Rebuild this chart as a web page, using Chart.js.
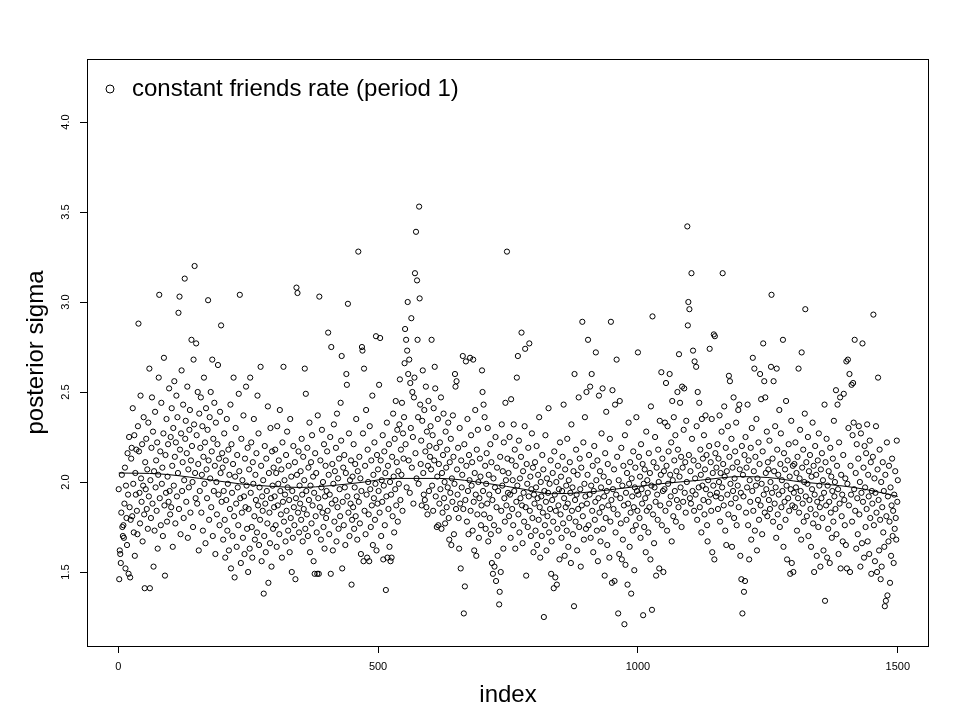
<!DOCTYPE html>
<html>
<head>
<meta charset="utf-8">
<script src="https://cdn.jsdelivr.net/npm/chart.js@4.4.1/dist/chart.umd.min.js"></script>
<style>
  html, body { margin: 0; background: #fff; }
</style>
</head>
<body>
<canvas id="myChart" width="960" height="720"></canvas>
<script>
const seriesLabel = 'constant friends rate (period 1)';
const xTicks = [0, 500, 1000, 1500];
const yTicks = [1.5, 2.0, 2.5, 3.0, 3.5, 4.0];

// posterior sigma per draw, index 1..1500 (50 per row)
const sigmaDraws = [
  1.96,1.46,1.62,1.60,1.55,1.83,2.04,1.75,1.70,1.76,1.69,1.88,2.08,1.52,1.98,1.80,1.65,2.16,1.93,1.49,2.25,1.86,1.47,1.79,2.13,2.19,1.81,2.41,1.99,1.72,2.26,1.59,2.05,1.93,2.18,1.84,1.71,2.31,2.88,2.17,1.94,1.77,2.48,2.02,1.89,2.21,1.67,1.98,2.36,1.82,
  1.41,2.11,1.96,2.24,1.85,2.07,1.74,2.33,1.92,2.63,1.41,2.01,1.80,2.19,2.47,1.88,2.28,1.53,2.06,1.73,2.39,1.97,2.12,1.84,2.22,1.63,2.04,2.58,3.04,1.91,2.17,1.76,2.44,1.99,2.08,1.70,2.27,2.69,1.87,1.48,2.15,1.94,2.35,1.78,2.03,2.21,1.89,2.52,1.95,1.82,
  2.25,1.86,2.41,2.09,1.64,2.30,1.98,2.56,2.14,1.77,2.22,2.48,1.92,2.36,2.05,2.94,1.85,3.03,2.18,1.71,2.27,2.62,1.95,2.11,2.43,1.80,2.01,3.13,2.24,2.34,1.89,2.16,2.53,1.69,2.07,1.97,2.29,2.40,1.83,2.12,2.79,2.20,2.00,1.75,2.68,2.32,3.20,2.05,1.91,2.77,
  2.26,1.88,2.50,2.10,1.62,2.38,1.95,2.19,2.47,1.83,2.04,2.31,1.73,2.14,2.58,1.99,2.22,1.66,2.41,2.07,1.91,2.29,3.01,2.12,1.79,2.36,2.02,2.50,1.86,2.17,2.68,1.70,2.24,1.95,2.44,2.09,1.60,2.33,2.00,1.82,2.21,2.65,1.93,2.13,1.76,2.39,2.05,2.87,1.89,2.16,
  2.08,1.68,1.95,2.27,1.79,1.58,2.12,1.90,2.35,1.73,1.99,2.18,1.62,2.04,1.85,2.43,1.52,2.21,1.94,1.70,2.10,2.58,1.81,1.47,2.03,2.30,1.88,1.64,2.15,1.97,1.76,2.49,2.06,3.04,1.91,1.55,2.24,1.83,2.01,1.69,2.37,1.92,1.60,2.13,1.86,2.53,1.98,1.74,2.19,1.50,
  1.85,2.07,1.63,2.58,1.94,2.22,1.75,1.58,2.11,1.99,2.35,1.81,1.68,2.04,1.90,2.16,1.72,2.48,1.87,2.27,1.65,1.97,1.79,2.64,2.09,1.56,1.92,1.84,2.01,1.38,1.70,2.20,1.88,1.61,2.13,1.95,1.77,2.42,1.44,2.05,1.83,1.66,2.30,1.91,1.53,2.17,1.98,1.74,2.08,1.86,
  1.92,2.18,1.76,2.05,1.64,2.31,1.87,1.99,2.12,1.71,2.40,1.95,1.82,2.07,1.58,2.22,1.89,2.64,1.78,2.01,1.93,1.67,2.15,1.84,2.28,1.97,1.73,2.09,1.90,1.61,2.35,1.80,2.03,1.50,1.95,1.69,2.20,1.86,1.76,2.11,1.46,1.91,3.08,2.04,3.05,1.83,2.17,1.72,1.98,1.88,
  2.06,1.79,2.24,1.93,1.67,2.14,1.85,2.01,2.63,1.74,2.49,1.95,1.82,2.19,1.70,2.08,1.90,2.33,1.61,1.98,2.11,1.77,2.26,1.87,2.03,1.56,1.94,1.49,2.16,1.81,2.05,1.72,1.49,2.37,1.91,1.49,3.03,1.86,2.12,1.68,1.97,2.29,1.83,2.00,1.75,2.21,1.63,1.92,2.09,1.80,
  1.95,2.17,1.84,2.83,2.04,1.71,1.93,2.25,1.49,2.75,1.88,2.10,1.62,1.99,2.32,1.78,2.06,1.90,2.19,1.67,2.38,1.86,2.02,1.74,2.13,1.96,1.81,2.44,2.23,2.70,1.52,1.89,2.08,1.76,2.15,1.97,1.65,2.05,2.60,2.54,1.92,2.99,1.83,2.27,1.70,2.01,1.88,2.12,1.43,1.79,
  2.03,1.86,2.21,1.74,1.97,2.10,1.81,2.35,1.92,1.68,2.06,3.28,1.89,2.14,1.77,2.02,1.60,1.95,2.75,2.73,2.27,1.56,2.63,1.84,2.09,1.71,2.40,1.93,1.58,2.18,2.00,1.82,1.56,2.31,1.96,1.75,2.12,1.87,2.48,1.65,2.04,1.91,2.22,1.79,1.99,2.81,1.62,2.15,1.88,2.07,
  1.95,2.54,1.83,2.80,2.12,1.70,2.01,1.89,2.26,1.57,1.98,2.17,1.76,2.05,1.40,1.92,2.33,1.58,2.09,1.85,2.21,1.64,2.00,1.56,1.93,1.58,2.14,1.81,2.38,2.03,1.72,2.24,1.96,2.45,1.87,2.11,2.29,1.78,2.06,1.99,2.32,2.57,1.90,2.18,2.04,2.44,1.84,2.27,2.13,2.36,
  2.66,2.85,2.21,2.79,1.97,2.73,3.00,2.60,2.12,2.68,1.94,2.55,2.30,2.91,2.08,2.50,2.25,1.88,2.47,2.58,3.16,2.16,3.39,2.02,3.12,2.79,2.36,1.99,3.53,3.02,2.43,2.10,2.23,1.87,2.34,2.62,2.05,1.93,2.40,1.90,2.17,2.53,1.86,2.28,1.82,2.09,2.45,1.95,2.20,2.14,
  2.31,2.07,2.79,1.98,2.26,1.84,2.41,2.12,2.64,2.52,1.92,2.19,1.75,2.03,2.35,1.76,2.10,1.88,2.22,1.96,2.47,1.74,2.05,1.83,2.15,2.38,1.91,2.00,1.77,2.28,2.08,1.86,2.18,1.97,2.33,1.80,1.68,2.11,1.94,2.24,1.65,2.02,1.89,2.37,2.14,1.71,1.99,2.60,2.53,1.85,
  2.56,2.07,1.93,2.19,1.80,1.63,2.30,1.88,1.52,2.12,1.97,2.04,2.70,1.85,1.27,2.21,1.42,1.90,2.67,2.09,1.78,2.35,1.95,1.71,2.15,2.01,2.69,1.84,2.26,1.98,2.11,1.73,2.68,1.89,1.62,2.05,2.40,1.93,1.59,2.18,1.82,2.29,2.00,1.69,1.91,2.13,2.03,1.76,1.87,2.62,
  2.50,1.95,2.43,1.82,2.36,2.09,1.74,1.99,2.16,1.88,2.30,1.67,2.04,1.93,1.80,2.21,1.71,2.11,1.55,1.90,1.49,2.02,1.76,1.53,1.97,2.25,1.45,1.86,2.08,1.59,1.95,1.73,1.32,1.39,2.14,1.50,1.84,2.32,1.98,2.06,1.63,2.22,1.91,1.78,2.44,2.01,1.87,3.28,2.13,1.94,
  2.05,1.81,2.25,1.93,1.69,2.46,2.12,1.85,2.01,1.76,2.32,1.95,2.18,1.63,2.09,1.89,2.58,1.98,2.70,1.82,2.23,1.72,2.02,1.91,2.14,2.83,1.87,1.66,2.06,1.94,1.78,2.31,2.74,1.86,1.48,2.10,1.99,1.75,2.19,1.92,2.77,1.84,2.03,1.70,1.96,2.27,1.80,2.08,1.61,1.93,
  1.88,2.11,1.73,1.97,2.20,1.65,1.91,2.04,1.79,2.36,1.86,1.58,2.00,1.92,1.70,2.15,1.83,2.07,1.25,1.95,1.76,2.26,1.89,1.62,2.02,1.81,1.94,2.41,1.72,1.99,1.85,2.12,1.49,1.67,1.90,2.05,1.78,1.41,2.17,1.93,1.47,1.84,2.00,1.43,1.74,2.09,1.87,1.96,1.57,2.22,
  1.82,2.03,1.69,1.95,2.14,1.77,2.43,1.91,1.59,2.07,1.86,1.98,1.73,2.24,1.88,1.64,2.01,1.80,2.11,1.94,1.55,2.32,1.84,1.97,1.71,2.06,1.31,2.60,1.90,1.78,2.18,1.93,1.62,2.04,1.85,2.47,1.75,2.13,1.96,1.53,2.08,1.87,2.89,1.81,2.22,1.68,1.99,2.36,1.92,1.74,
  2.50,1.88,2.04,2.79,1.76,2.15,1.93,2.53,1.69,1.98,2.60,1.84,2.09,1.61,1.95,2.20,1.79,1.89,2.72,2.01,1.73,2.12,1.56,1.91,2.48,1.83,2.06,1.67,1.97,2.27,1.86,2.52,1.74,2.03,1.92,1.48,2.16,1.80,2.39,1.95,1.65,2.10,1.87,2.00,1.58,2.24,1.78,2.89,1.90,1.44,
  2.51,1.96,1.85,2.07,1.45,2.43,1.72,1.93,2.68,2.14,1.82,1.27,2.01,1.60,2.45,1.91,1.77,2.19,1.57,1.98,1.68,2.09,1.87,1.21,2.26,1.54,1.94,1.79,2.05,1.43,1.88,2.33,1.99,1.64,2.11,1.83,1.38,2.02,1.92,1.73,2.17,1.86,1.51,1.97,2.08,1.76,2.36,1.95,1.84,2.72,
  1.93,2.14,1.80,2.03,1.69,2.21,1.96,1.88,2.10,1.26,1.99,1.75,2.07,1.91,1.61,2.28,1.84,2.01,1.94,1.72,2.16,1.86,2.05,1.57,2.42,1.98,1.29,2.92,1.82,2.11,1.66,1.97,2.25,1.89,1.48,2.08,1.93,1.79,2.18,2.00,1.52,2.34,1.87,2.04,2.61,1.76,2.13,1.95,1.50,2.06,
  1.96,2.33,1.84,2.55,2.09,1.73,2.31,1.99,2.17,1.88,2.60,2.04,1.92,2.22,1.67,2.45,2.01,1.81,2.36,2.12,1.95,2.26,1.78,2.06,1.90,2.50,2.18,1.86,2.71,2.03,2.44,1.97,2.14,1.75,2.53,2.08,1.89,2.29,2.52,1.94,2.11,1.83,2.34,2.00,3.42,2.87,3.00,2.15,2.96,1.91,
  2.06,1.88,3.16,2.24,1.95,2.73,2.12,1.84,2.67,2.02,1.93,2.64,2.31,1.79,2.50,2.09,1.97,2.44,1.86,2.18,2.04,1.72,2.35,1.98,2.13,1.90,2.26,1.82,2.07,2.37,1.96,2.15,1.76,1.67,2.01,1.89,2.20,2.74,1.93,2.11,1.84,2.35,1.61,2.05,1.98,2.82,1.57,2.81,2.16,1.92,
  2.08,1.94,2.21,1.85,2.13,2.00,2.37,1.78,2.05,1.91,2.28,1.97,3.16,2.10,1.87,2.42,2.03,1.73,2.19,1.65,2.06,1.93,2.31,1.82,2.59,2.14,2.56,1.99,1.88,2.24,1.64,2.08,1.95,2.47,1.80,2.02,2.17,1.91,2.33,1.76,2.11,1.98,2.40,1.86,2.43,2.07,1.59,1.94,1.46,2.20,
  1.27,2.04,1.92,1.39,2.15,1.45,2.25,1.83,2.08,1.97,2.43,1.76,2.12,1.57,2.01,1.89,2.19,1.68,2.30,1.95,2.69,1.84,2.06,2.63,1.73,2.14,1.98,2.35,1.62,2.02,1.90,2.22,1.79,2.10,2.60,1.87,2.46,1.99,1.71,2.17,2.77,1.93,2.56,1.83,2.47,2.05,1.96,2.28,1.81,2.11,
  2.07,1.90,2.23,1.85,2.00,2.64,3.04,1.94,2.13,1.78,2.56,2.06,1.88,2.31,1.97,1.69,2.63,2.18,1.82,2.04,1.93,2.40,1.75,2.10,2.27,1.86,2.01,1.95,2.79,1.64,2.16,1.89,2.07,1.79,2.45,1.98,1.57,2.12,1.91,2.21,1.84,2.03,1.49,1.96,2.34,1.55,1.87,2.09,1.50,1.94,
  2.10,1.86,2.22,1.97,2.05,1.73,2.14,1.91,2.63,1.83,2.02,2.29,1.95,1.68,2.72,2.08,1.88,2.18,1.78,2.00,2.38,2.96,1.92,2.11,1.81,1.99,2.25,1.70,2.06,1.90,2.15,1.85,1.64,2.03,1.96,2.33,1.77,2.09,1.50,1.93,2.20,1.82,2.04,1.59,1.89,2.12,1.75,2.27,1.98,1.86,
  1.53,2.07,1.91,2.16,1.80,2.01,1.62,1.94,2.43,1.34,2.11,1.87,2.24,1.58,1.98,1.74,2.06,1.89,1.55,2.19,1.83,2.03,1.69,1.95,2.13,1.78,2.34,1.92,2.00,1.85,2.51,1.71,2.09,2.43,1.96,1.60,2.22,1.88,2.47,1.52,2.04,1.81,1.93,1.67,2.15,2.49,1.90,1.76,2.02,1.65,
  2.67,1.52,1.99,2.68,2.30,1.87,2.60,1.50,2.09,1.93,2.54,1.78,2.26,2.55,2.33,1.96,2.79,1.84,2.05,1.63,2.21,1.91,1.71,2.13,2.31,1.82,2.00,1.53,2.27,1.94,1.66,2.77,1.89,2.08,1.58,2.20,1.97,1.75,2.16,1.85,2.32,1.67,2.04,1.92,1.60,2.23,1.80,2.11,1.49,1.95,
  1.88,2.14,2.93,1.76,2.02,1.56,1.94,2.31,1.83,1.50,2.07,2.58,1.90,1.62,2.18,1.79,1.46,2.00,1.53,1.86,2.11,1.72,1.95,1.64,1.31,2.04,1.34,1.81,2.22,1.37,1.92,1.67,2.09,1.78,1.44,1.97,1.59,1.87,2.13,1.70,1.84,1.55,1.93,1.74,2.06,1.80,1.68,2.23,1.89,2.01
];

// smoothed trend drawn over the draws
const trendIndex = [1, 80, 157, 234, 300, 350, 410, 474, 528, 618, 715, 780, 834, 890, 955, 1042, 1120, 1196, 1250, 1315, 1388, 1436, 1500];
const trendSigma = [2.05, 2.045, 2.02, 1.99, 1.975, 1.97, 1.98, 2.0, 2.02, 2.02, 1.99, 1.96, 1.935, 1.94, 1.96, 1.99, 2.01, 2.03, 2.025, 2.0, 1.98, 1.96, 1.92];

const points = sigmaDraws.map((v, i) => ({ x: i + 1, y: v }));
const trend = trendIndex.map((x, i) => ({ x: x, y: trendSigma[i] }));

Chart.defaults.font.family = '"Liberation Sans", Arial, sans-serif';
Chart.defaults.color = '#000';

// R-style frame around the plot region plus the legend in its top-left corner
const framePlugin = {
    id: 'frame',
    afterDraw(chart) {
        const { ctx, chartArea } = chart;
        ctx.save();
        ctx.strokeStyle = '#000';
        ctx.lineWidth = 1;
        ctx.strokeRect(chartArea.left + 0.5, chartArea.top + 0.5, chartArea.width - 1, chartArea.height);

        const lx = chartArea.left + 23;
        const ly = chartArea.top + 30;
        ctx.beginPath();
        ctx.arc(lx, ly, 4, 0, Math.PI * 2);
        ctx.stroke();
        ctx.fillStyle = '#000';
        ctx.font = '24px "Liberation Sans", Arial, sans-serif';
        ctx.textBaseline = 'middle';
        ctx.textAlign = 'left';
        ctx.fillText(seriesLabel, lx + 22, ly);
        ctx.restore();
    }
};

const ctx = document.getElementById('myChart').getContext('2d');
const chart = new Chart(ctx, {
    type: 'scatter',
    data: {
        datasets: [{
            label: seriesLabel,
            data: points,
            pointStyle: 'circle',
            pointRadius: 2.6,
            pointBorderWidth: 1,
            borderColor: '#000',
            backgroundColor: 'rgba(0,0,0,0)',
        }, {
            type: 'line',
            label: 'trend',
            data: trend,
            borderColor: '#000',
            borderWidth: 1,
            pointRadius: 0,
            fill: false,
            cubicInterpolationMode: 'monotone',
        }]
    },
    options: {
        responsive: false,
        animation: false,
        layout: { padding: { left: 0, right: 31, top: 59, bottom: 0 } },
        plugins: {
            legend: { display: false },
            tooltip: { enabled: false }
        },
        scales: {
            x: {
                type: 'linear',
                min: -60,
                max: 1560,
                afterBuildTicks: scale => { scale.ticks = xTicks.map(v => ({ value: v })); },
                afterFit: scale => { scale.height = 74; },
                grid: { display: true, drawOnChartArea: false, drawTicks: true, tickLength: 7, color: '#000' },
                border: { display: false },
                ticks: { font: { size: 11 }, padding: 7, maxRotation: 0, callback: v => String(v) },
                title: { display: true, text: 'index', font: { size: 24 }, padding: { top: 0, bottom: 10 } }
            },
            y: {
                min: 1.089,
                max: 4.35,
                afterBuildTicks: scale => { scale.ticks = yTicks.map(v => ({ value: v })); },
                afterFit: scale => { scale.width = 87; },
                grid: { display: true, drawOnChartArea: false, drawTicks: true, tickLength: 7, color: '#000' },
                border: { display: false },
                ticks: { font: { size: 11 }, padding: 6, minRotation: 90, maxRotation: 90, crossAlign: 'center', callback: v => v.toFixed(1) },
                title: { display: true, text: 'posterior sigma', font: { size: 24 }, padding: { top: 22, bottom: 0 } }
            }
        }
    },
    plugins: [framePlugin]
});
</script>
</body>
</html>
